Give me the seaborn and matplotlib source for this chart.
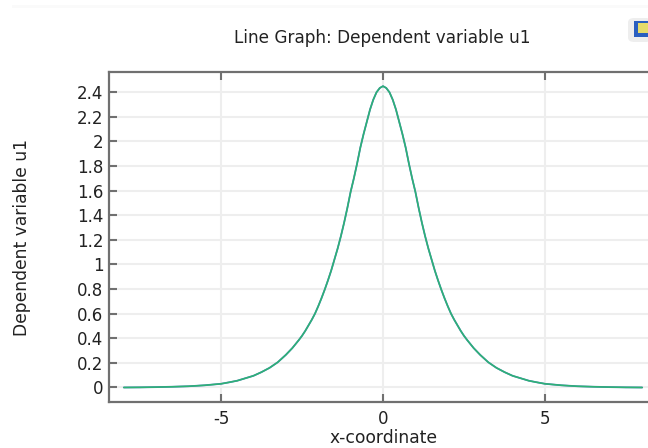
import matplotlib
matplotlib.use("Agg")
import matplotlib.pyplot as plt
from matplotlib.patches import Rectangle, FancyBboxPatch
import seaborn as sns
import pandas as pd

x_coord = [-8, -7.5, -7, -6.5, -6, -5.5, -5, -4.75, -4.5, -4.25, -4, -3.75, -3.5, -3.25, -3, -2.8, -2.6,
           -2.5, -2.4, -2.3, -2.2, -2.1, -2, -1.9, -1.8, -1.7, -1.6, -1.5, -1.4, -1.3, -1.2, -1.1,
           -1, -0.9, -0.8, -0.7, -0.6, -0.5, -0.4, -0.3, -0.2, -0.1,
           0, 0.1, 0.2, 0.3, 0.4, 0.5, 0.6, 0.7, 0.8, 0.9, 1,
           1.1, 1.2, 1.3, 1.4, 1.5, 1.6, 1.7, 1.8, 1.9, 2, 2.1, 2.2, 2.3, 2.4, 2.5,
           2.6, 2.8, 3, 3.25, 3.5, 3.75, 4, 4.25, 4.5, 4.75, 5, 5.5, 6, 6.5, 7, 7.5, 8]
u1 = [0.0, 0.001, 0.003, 0.006, 0.01, 0.018, 0.03, 0.042, 0.055, 0.075, 0.095, 0.125, 0.16, 0.205, 0.265, 0.32, 0.385,
      0.42, 0.46, 0.505, 0.55, 0.60, 0.66, 0.725, 0.795, 0.87, 0.95, 1.04, 1.13, 1.23, 1.34, 1.46,
      1.59, 1.70, 1.82, 1.95, 2.06, 2.16, 2.26, 2.34, 2.40, 2.435,
      2.45, 2.435, 2.40, 2.34, 2.26, 2.16, 2.06, 1.95, 1.82, 1.70, 1.59,
      1.46, 1.34, 1.23, 1.13, 1.04, 0.95, 0.87, 0.795, 0.725, 0.66, 0.60, 0.55, 0.505, 0.46, 0.42,
      0.385, 0.32, 0.265, 0.205, 0.16, 0.125, 0.095, 0.075, 0.055, 0.042, 0.03, 0.018, 0.01, 0.006, 0.003, 0.001, 0.0]

x_ticks = [-5, 0, 5]
x_labels = ["-5", "0", "5"]
y_ticks = [0, 0.2, 0.4, 0.6, 0.8, 1, 1.2, 1.4, 1.6, 1.8, 2, 2.2, 2.4]
y_labels = ["0", "0.2", "0.4", "0.6", "0.8", "1", "1.2", "1.4", "1.6", "1.8", "2", "2.2", "2.4"]

df = pd.DataFrame({"x-coordinate": x_coord, "Dependent variable u1": u1})

sns.set_style("whitegrid")
plt.rcParams["font.family"] = "DejaVu Sans"

fig = plt.figure(figsize=(6.48, 4.48), dpi=100)
ax = fig.add_axes([109 / 648, 1 - 402 / 448, 1 - 109 / 648, 330 / 448])

# blue line under the green one, the original has two overlapping curves
sns.lineplot(data=df, x="x-coordinate", y="Dependent variable u1", color="#4a7fb8", linewidth=1.3, ax=ax)
sns.lineplot(data=df, x="x-coordinate", y="Dependent variable u1", color="#2db374", linewidth=1.1, ax=ax)

ax.set_xlim(-8.457, 8.179)
ax.set_ylim(-0.118, 2.565)
ax.set_xticks(x_ticks)
ax.set_xticklabels(x_labels)
ax.set_yticks(y_ticks)
ax.set_yticklabels(y_labels)
ax.grid(True, color="#eeeeee", linewidth=1.5)
ax.set_axisbelow(True)

ax.tick_params(axis="both", which="major", direction="in", length=6, width=1.5, color="#707070",
               labelsize=12, labelcolor="#222222", left=True, bottom=True, top=True)
ax.tick_params(axis="x", pad=6)
ax.tick_params(axis="y", pad=4)
for side in ["left", "bottom", "top"]:
    ax.spines[side].set_color("#707070")
    ax.spines[side].set_linewidth(1.6)
ax.spines["right"].set_visible(False)

ax.set_xlabel("")
ax.set_ylabel("")
fig.text(383 / 648, 1 - 438 / 448, "x-coordinate", ha="center", va="center", fontsize=12.3, color="#222222")
fig.text(22 / 648, 1 - 237 / 448, "Dependent variable u1", ha="center", va="center", rotation=90,
         fontsize=12.3, color="#222222")
fig.text(382 / 648, 1 - 38 / 448, "Line Graph: Dependent variable u1", ha="center", va="center",
         fontsize=12.2, color="#222222")

# faint band at the top and the little icon in the corner
fig.patches.append(Rectangle((12 / 648, 1 - 8 / 448), 636 / 648, 3 / 448, transform=fig.transFigure,
                             facecolor="#fafafa", edgecolor="none"))
fig.patches.append(FancyBboxPatch((628 / 648, 1 - 42 / 448), 24 / 648, 24 / 448, transform=fig.transFigure,
                                  boxstyle="round,pad=0,rounding_size=0.01", facecolor="#eeeeee", edgecolor="none"))
fig.patches.append(Rectangle((634 / 648, 1 - 37 / 448), 14 / 648, 16 / 448, transform=fig.transFigure,
                             facecolor="#2a5fc0", edgecolor="none"))
fig.patches.append(Rectangle((638 / 648, 1 - 33 / 448), 10 / 648, 10 / 448, transform=fig.transFigure,
                             facecolor="#e6dc6a", edgecolor="none"))

fig.savefig("out.png", dpi=100)
